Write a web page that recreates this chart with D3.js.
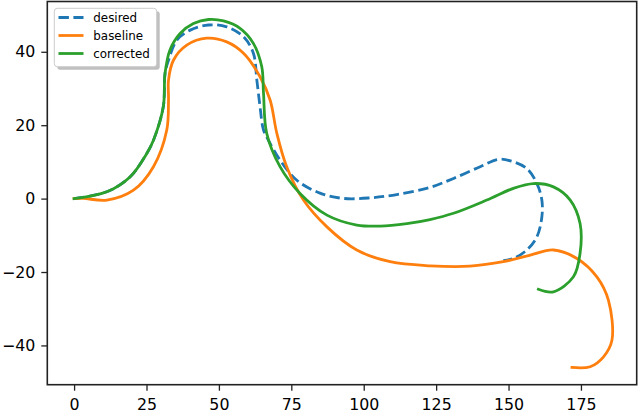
<!DOCTYPE html>
<html>
<head>
<meta charset="utf-8">
<script src="https://cdn.jsdelivr.net/npm/d3@7"></script>
<style>
  html, body { margin: 0; padding: 0; background: #fff; }
  svg { display: block; }
  text { font-family: "DejaVu Sans", sans-serif; fill: #000; }
</style>
</head>
<body>
<svg id="chart" width="640" height="413"></svg>
<script>
// ---- data ----
const seriesNames = ["desired", "baseline", "corrected"];
const seriesColors = ["#1f77b4", "#ff7f0e", "#2ca02c"];

const desiredX = [0, 11.3, 19.3, 25.1, 27.4, 30.8, 31.4, 32.6, 35.5, 40.1, 46.4, 52.7, 58.5, 61.9, 63.1, 64.2, 65.4, 67.1, 71.1, 76.9, 84.9, 93.0, 102.2, 111.4, 122.9, 131.0, 140.2, 146.5, 150.6, 156.3, 159.8, 161.5, 161.5, 159.8, 156.3, 151.7, 148.2];
const desiredY = [0, 1.85, 5.9, 12.3, 15.9, 25.0, 34.1, 37.7, 43.2, 45.9, 47.3, 46.8, 44.1, 39.6, 32.3, 25.0, 18.7, 15.9, 10.5, 5.0, 1.5, 0.05, 0.2, 1.1, 3.05, 5.5, 8.7, 10.7, 10.3, 8.2, 4.1, -0.4, -5.0, -10.4, -14.0, -16.3, -16.9];

const baselineX = [0, 3.2, 11.3, 20.5, 27.4, 32.0, 32.6, 32.6, 34.3, 38.9, 45.8, 52.7, 58.5, 64.2, 67.7, 70.0, 73.4, 79.2, 87.3, 97.6, 109.1, 122.9, 136.7, 148.2, 157.5, 165.5, 173.6, 180.5, 184.5, 185.7, 182.8, 178.2, 171.9];
const baselineY = [0, 0.05, -0.4, 2.3, 8.7, 18.7, 26.8, 32.3, 37.7, 41.8, 43.7, 42.7, 39.6, 33.2, 26.8, 17.8, 8.7, -0.4, -7.7, -14.0, -17.2, -18.3, -18.4, -17.2, -15.4, -14.0, -16.3, -21.3, -27.7, -38.6, -43.1, -45.8, -46.0];

const correctedX = [0, 11.3, 19.3, 25.1, 27.4, 30.8, 31.4, 33.1, 36.6, 41.2, 46.4, 51.6, 57.3, 61.9, 64.8, 65.4, 66.5, 71.1, 78.0, 87.3, 97.6, 105.7, 114.9, 122.9, 131.0, 142.5, 151.7, 158.6, 165.5, 171.3, 174.7, 174.7, 172.4, 165.5, 160.3];
const correctedY = [0, 1.85, 5.9, 12.3, 15.9, 25.0, 34.1, 40.5, 45.0, 47.7, 48.8, 48.4, 46.4, 42.3, 35.9, 28.7, 17.8, 8.7, 1.4, -4.5, -7.2, -7.5, -6.8, -5.7, -4.0, -0.4, 2.8, 4.1, 3.2, -0.4, -6.8, -14.9, -21.3, -25.4, -24.7];

const xTicks = [0, 25, 50, 75, 100, 125, 150, 175];
const yTicks = [-40, -20, 0, 20, 40];

// ---- layout ----
const svg = d3.select("#chart");
const plot = { left: 47.3, right: 636.7, top: 1.5, bottom: 384.7 };

const x = d3.scaleLinear().domain([-9.25, 194.25]).range([plot.left, plot.right]);
const y = d3.scaleLinear().domain([-50.7, 53.7]).range([plot.bottom, plot.top]);

const series = [
  { name: seriesNames[0], color: seriesColors[0], xs: desiredX, ys: desiredY, dash: "10.4,4.5" },
  { name: seriesNames[1], color: seriesColors[1], xs: baselineX, ys: baselineY, dash: null },
  { name: seriesNames[2], color: seriesColors[2], xs: correctedX, ys: correctedY, dash: null }
];

const line = d3.line()
  .x(d => x(d[0]))
  .y(d => y(d[1]))
  .curve(d3.curveCatmullRom.alpha(0.5));

svg.append("defs").append("clipPath").attr("id", "clip")
  .append("rect")
  .attr("x", plot.left).attr("y", plot.top)
  .attr("width", plot.right - plot.left).attr("height", plot.bottom - plot.top);

const g = svg.append("g").attr("clip-path", "url(#clip)");
series.forEach(s => {
  const pts = s.xs.map((v, i) => [v, s.ys[i]]);
  g.append("path")
    .attr("d", line(pts))
    .attr("fill", "none")
    .attr("stroke", s.color)
    .attr("stroke-width", 2.8)
    .attr("stroke-linejoin", "round")
    .attr("stroke-linecap", s.dash ? "butt" : "square")
    .attr("stroke-dasharray", s.dash);
});

// ---- axes ----
const xAxis = d3.axisBottom(x).tickValues(xTicks).tickSize(6).tickPadding(8).tickFormat(d3.format("d"));
const yAxis = d3.axisLeft(y).tickValues(yTicks).tickSize(6).tickPadding(6)
  .tickFormat(d => d < 0 ? "\u2212" + Math.abs(d) : String(d));

const gx = svg.append("g").attr("transform", `translate(0,${plot.bottom})`).call(xAxis);
const gy = svg.append("g").attr("transform", `translate(${plot.left},0)`).call(yAxis);
[gx, gy].forEach(a => {
  a.select(".domain").remove();
  a.selectAll(".tick line").attr("stroke", "#222").attr("stroke-width", 1.3);
  a.selectAll(".tick text").attr("font-family", "DejaVu Sans, sans-serif").attr("font-size", 15.8).attr("fill", "#000");
});

// frame (spines)
svg.append("rect")
  .attr("x", plot.left).attr("y", plot.top)
  .attr("width", plot.right - plot.left).attr("height", plot.bottom - plot.top)
  .attr("fill", "none").attr("stroke", "#222").attr("stroke-width", 1.6);

// ---- legend ----
const leg = { x: 54.3, y: 8.3, w: 102.4, h: 58.4 };
const lg = svg.append("g");
lg.append("rect")
  .attr("x", leg.x + 3).attr("y", leg.y + 3).attr("width", leg.w).attr("height", leg.h)
  .attr("rx", 3).attr("fill", "#808080").attr("opacity", 0.5);
lg.append("rect")
  .attr("x", leg.x).attr("y", leg.y).attr("width", leg.w).attr("height", leg.h)
  .attr("rx", 3).attr("fill", "#fff").attr("stroke", "#cccccc").attr("stroke-width", 1);

series.forEach((s, i) => {
  const yy = 17.5 + i * 18;
  lg.append("line")
    .attr("x1", 58.5).attr("x2", 83.5).attr("y1", yy).attr("y2", yy)
    .attr("stroke", s.color).attr("stroke-width", 2.8)
    .attr("stroke-dasharray", s.dash);
  lg.append("text")
    .attr("x", 93.3).attr("y", yy).attr("dy", "0.35em")
    .attr("font-size", 11.9)
    .text(s.name);
});
</script>
</body>
</html>
